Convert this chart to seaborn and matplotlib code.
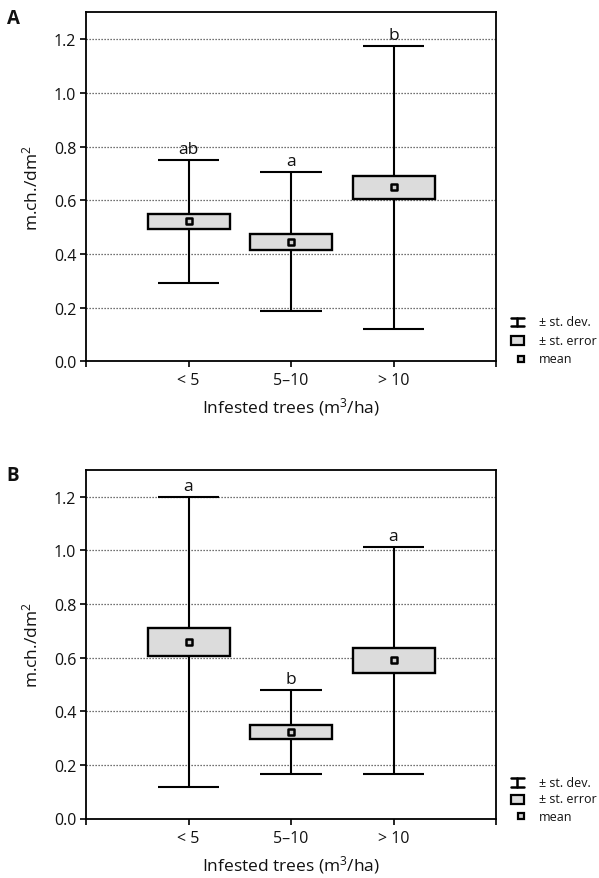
import numpy as np
import pandas as pd
import matplotlib
matplotlib.use("Agg")
import matplotlib.pyplot as plt
import seaborn as sns
from matplotlib.lines import Line2D
from matplotlib.patches import Rectangle

# ---------------- data ----------------
categories = ["< 5", "5–10", "> 10"]

mean_A = [0.521, 0.445, 0.648]
se_A = [0.027, 0.031, 0.042]
sd_A = [0.230, 0.259, 0.526]
letters_A = ["ab", "a", "b"]

mean_B = [0.657, 0.322, 0.589]
se_B = [0.053, 0.025, 0.047]
sd_B = [0.540, 0.157, 0.422]
letters_B = ["a", "b", "a"]

y_ticks = [0.0, 0.2, 0.4, 0.6, 0.8, 1.0, 1.2]
y_tick_labels = ["0.0", "0.2", "0.4", "0.6", "0.8", "1.0", "1.2"]
y_label = "m.ch./dm$^2$"
x_label = "Infested trees (m$^3$/ha)"
panel_labels = ["A", "B"]
legend_labels = ["± st. dev.", "± st. error", "mean"]

# ---------------- style ----------------
sns.set_theme(style="ticks")
plt.rcParams["font.family"] = ["Open Sans", "DejaVu Sans"]
plt.rcParams["mathtext.default"] = "regular"
plt.rcParams["mathtext.fontset"] = "custom"
plt.rcParams["mathtext.rm"] = "Open Sans"

W, H = 599, 879
BOX_FILL = "#dcdcdc"
LW = 1.5
TXT = "#111111"

fig = plt.figure(figsize=(W / 100, H / 100), dpi=100)
fig.patch.set_facecolor("white")


def px(x, y):
    return (x / W, 1 - y / H)


def draw_panel(ax, means, ses, sds, letters, legend_rows, label, label_y):
    df = pd.DataFrame({"cat": categories, "mean": means, "se": ses, "sd": sds})
    pos = np.arange(len(categories))
    m = df["mean"].to_numpy()
    se = df["se"].to_numpy()
    sd = df["sd"].to_numpy()

    # grid
    for yv in y_ticks[1:]:
        ax.axhline(yv, color="#444444", lw=0.9, ls=(0, (1, 1.4)), zorder=0.5)

    # sd whiskers
    ax.vlines(pos, m - sd, m + sd, color="black", lw=LW, zorder=2)
    ax.hlines(m + sd, pos - 0.3, pos + 0.3, color="black", lw=LW, zorder=2)
    ax.hlines(m - sd, pos - 0.3, pos + 0.3, color="black", lw=LW, zorder=2)

    # se boxes
    ax.bar(pos, 2 * se, bottom=m - se, width=0.8, color=BOX_FILL,
           edgecolor="black", linewidth=1.7, zorder=3)

    # means
    sns.scatterplot(data=df, x="cat", y="mean", marker="s", s=13,
                    color="#cfcfcf", edgecolor="black", linewidth=1.8,
                    zorder=4, ax=ax, legend=False)

    # letters
    for p, top, txt in zip(pos, m + sd, letters):
        ax.annotate(txt, (p, top), xytext=(0, 5), textcoords="offset points",
                    ha="center", va="baseline", fontsize=12.5, zorder=5,
                    color=TXT)

    ax.set_xlim(-1, 3)
    ax.set_ylim(0, 1.3)
    ax.set_xticks([-1, 0, 1, 2, 3])
    ax.set_xticklabels([""] + categories + [""])
    ax.set_yticks(y_ticks)
    ax.set_yticklabels(y_tick_labels)
    ax.tick_params(axis="both", direction="out", length=4, width=1.2,
                   labelsize=11.5, color="black", labelcolor=TXT)
    ax.tick_params(axis="x", pad=4)
    ax.tick_params(axis="y", pad=3)
    for s in ax.spines.values():
        s.set_visible(True)
        s.set_linewidth(1.3)
        s.set_color("black")
    ax.set_facecolor("white")
    ax.set_xlabel(x_label, fontsize=12.5, color=TXT)
    ax.set_ylabel(y_label, fontsize=12.5, color=TXT)
    ax.xaxis.set_label_coords(0.5, -0.098)
    ax.yaxis.set_label_coords(-0.108, 0.5)

    # panel label
    fig.text(*px(13, label_y), label, fontsize=13.5, fontweight="bold",
             ha="center", va="center", color=TXT)

    # legend (manual)
    r1, r2, r3 = legend_rows
    x0, x1, xc = 510.5, 524, 517.2
    for (xa, ya, xb, yb) in [(x0, r1 - 4.3, x1, r1 - 4.3),
                             (x0, r1 + 4.3, x1, r1 + 4.3),
                             (xc, r1 - 4.3, xc, r1 + 4.3)]:
        fig.add_artist(Line2D([xa / W, xb / W], [1 - ya / H, 1 - yb / H],
                              color="black", lw=1.8, transform=fig.transFigure))
    bx, by = px(511, r2 + 4.5)
    fig.add_artist(Rectangle((bx, by), 13 / W, 9 / H, facecolor=BOX_FILL,
                             edgecolor="black", lw=1.6,
                             transform=fig.transFigure))
    mx, my = px(521, r3)
    fig.add_artist(Line2D([mx], [my], marker="s", ms=4, mfc="#cfcfcf",
                          mec="black", mew=1.6, ls="none",
                          transform=fig.transFigure))
    for ry, txt in zip(legend_rows, legend_labels):
        fig.text(*px(539, ry), txt, fontsize=9, ha="left", va="center",
                 color=TXT)


axA = fig.add_axes([86 / W, 1 - 362.3 / H, 410 / W, 349 / H])
axB = fig.add_axes([86 / W, 1 - 819.5 / H, 410 / W, 348.8 / H])

draw_panel(axA, mean_A, se_A, sd_A, letters_A, [323, 341.7, 360],
           panel_labels[0], 18.5)
draw_panel(axB, mean_B, se_B, sd_B, letters_B, [783.5, 800, 817.3],
           panel_labels[1], 476)

fig.savefig("out.png", dpi=100, facecolor="white")
